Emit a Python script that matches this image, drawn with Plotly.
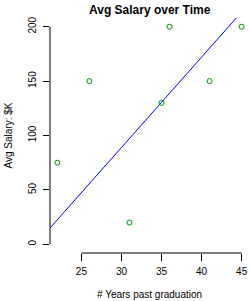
import plotly.graph_objects as go

years = [22, 26, 31, 35, 36, 41, 45]
salary = [75, 150, 20, 130, 200, 150, 200]
x_ticks = [25, 30, 35, 40, 45]
y_ticks = [0, 50, 100, 150, 200]
line_intercept = -160.0
line_slope = 8.3

x_range = [21.08, 45.92]
y_range = [-8, 208]

FONT = "Liberation Sans, Arial, Helvetica, sans-serif"

fig = go.Figure()
fig.add_trace(go.Scatter(
    x=x_range,
    y=[line_intercept + line_slope * v for v in x_range],
    mode="lines",
    line=dict(color="#0000FF", width=1),
    hoverinfo="skip",
))
fig.add_trace(go.Scatter(
    x=years, y=salary, mode="markers",
    marker=dict(symbol="circle-open", size=5, color="#008800",
                line=dict(width=1, color="#008800")),
))

fig.update_layout(
    width=250, height=301,
    margin=dict(l=50, r=1, t=18, b=48),
    paper_bgcolor="white", plot_bgcolor="white",
    showlegend=False,
    font=dict(family=FONT, size=10, color="black"),
    xaxis=dict(range=x_range, tickvals=x_ticks, showgrid=False, zeroline=False,
               showline=False, ticks="outside", ticklen=7, tickcolor="black",
               tickwidth=1, tickfont=dict(size=10), ticklabelstandoff=2),
    yaxis=dict(range=y_range, tickvals=y_ticks, showgrid=False, zeroline=False,
               showline=False, ticks="outside", ticklen=6, tickcolor="black",
               tickwidth=1, tickangle=-90, tickfont=dict(size=10),
               ticklabelstandoff=3),
    shapes=[
        dict(type="line", xref="x", yref="paper", x0=x_ticks[0], x1=x_ticks[-1],
             y0=0, y1=0, line=dict(color="black", width=1)),
        dict(type="line", xref="paper", yref="y", x0=0, x1=0,
             y0=y_ticks[0], y1=y_ticks[-1], line=dict(color="black", width=1)),
    ],
    annotations=[
        dict(text="<b>Avg Salary over Time</b>", xref="paper", yref="paper",
             x=0.5, y=1 + 8 / 235, xanchor="center", yanchor="middle",
             showarrow=False, font=dict(size=12)),
        dict(text="# Years past graduation", xref="paper", yref="paper",
             x=0.5, y=-41.5 / 235, xanchor="center", yanchor="middle",
             showarrow=False, font=dict(size=10)),
        dict(text="Avg Salary: $K", xref="paper", yref="paper",
             x=-42 / 199, y=0.5, xanchor="center", yanchor="middle",
             textangle=-90, showarrow=False, font=dict(size=10)),
    ],
)

fig.write_html("out.html")
